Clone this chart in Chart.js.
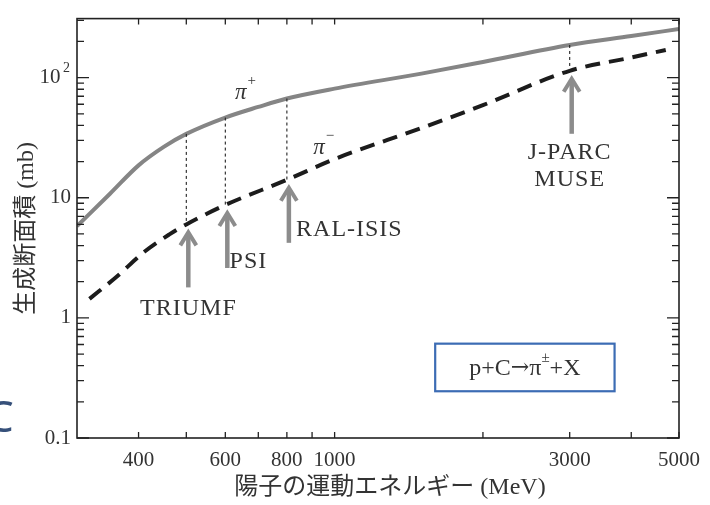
<!DOCTYPE html>
<html>
<head>
<meta charset="utf-8">
<title>p+C pion production</title>
<script src="https://cdn.jsdelivr.net/npm/chart.js@4/dist/chart.umd.min.js"></script>
<style>
  body { margin: 0; background: #fff; }
  #wrap { width: 710px; height: 505px; }
</style>
</head>
<body>
<div id="wrap"><canvas id="xs" width="710" height="505"></canvas></div>
<script>
// proton kinetic energy (MeV) and production cross sections (mb)
var energyPlus = [300, 350, 400, 450, 500, 600, 700, 800, 1000, 1500, 2000, 3000, 4000, 5000];
var sigmaPlus  = [5.8, 10.8, 18.6, 26.5, 34, 46.5, 57, 67, 81, 108, 135, 187, 222, 254];
var energyMinus = [318, 361, 411, 462, 500, 600, 800, 1000, 1500, 2000, 3000, 4000, 4700];
var sigmaMinus  = [1.44, 2.2, 3.55, 4.95, 6.0, 8.7, 14.1, 21, 38, 59, 114, 147, 170];

// facilities marked with arrows
var facilityNames  = ['TRIUMF', 'PSI', 'RAL-ISIS', 'J-PARC\nMUSE'];
var facilityEnergy = [500, 600, 800, 3000];

// axis ticks
var xTicks  = [400, 500, 600, 700, 800, 900, 1000, 2000, 3000, 4000, 5000];
var xLabels = [400, 600, 800, 1000, 3000, 5000];
var yTicks = [];
[0.1, 1, 10, 100].forEach(function (d) {
  for (var k = 1; k <= 9; k++) {
    if (d * k <= 310) yTicks.push(+(d * k).toPrecision(3));
  }
});
var yLabels = {0.1: '0.1', 1: '1', 10: '10', 100: '10'};

var serif = "'Liberation Serif', 'DejaVu Serif', serif";

function valueAt(xs, ys, x) {
  return ys[xs.indexOf(x)];
}

// frame, inward ticks, arrows and labels
var decorPlugin = {
  id: 'decor',
  afterDatasetsDraw: function (chart) {
    var ctx = chart.ctx, a = chart.chartArea;
    var xs = chart.scales.x, ys = chart.scales.y;
    ctx.save();

    // frame
    ctx.strokeStyle = '#222';
    ctx.lineWidth = 1.6;
    ctx.strokeRect(a.left, a.top, a.right - a.left, a.bottom - a.top);

    // inward ticks
    ctx.lineWidth = 1.3;
    ctx.beginPath();
    yTicks.forEach(function (v) {
      var y = ys.getPixelForValue(v);
      var len = yLabels[v] ? 12 : 7;
      ctx.moveTo(a.left, y); ctx.lineTo(a.left + len, y);
      ctx.moveTo(a.right, y); ctx.lineTo(a.right - len, y);
    });
    xTicks.forEach(function (v) {
      var x = xs.getPixelForValue(v);
      ctx.moveTo(x, a.bottom); ctx.lineTo(x, a.bottom - 6);
      ctx.moveTo(x, a.top); ctx.lineTo(x, a.top + 6);
    });
    ctx.stroke();

    // exponent of the 10^2 tick label
    ctx.fillStyle = '#333';
    ctx.font = '14px ' + serif;
    ctx.textAlign = 'left';
    ctx.textBaseline = 'middle';
    ctx.fillText('2', a.left - 14, ys.getPixelForValue(100) - 9);

    // dotted verticals between the two curves
    ctx.strokeStyle = '#222';
    ctx.lineWidth = 1.1;
    ctx.setLineDash([3, 3]);
    facilityEnergy.forEach(function (e) {
      var x = xs.getPixelForValue(e);
      ctx.beginPath();
      ctx.moveTo(x, ys.getPixelForValue(valueAt(energyPlus, sigmaPlus, e)));
      ctx.lineTo(x, ys.getPixelForValue(valueAt(energyMinus, sigmaMinus, e)));
      ctx.stroke();
    });
    ctx.setLineDash([]);

    // arrows: tip just below the pi- curve
    ctx.strokeStyle = '#8c8c8c';
    ctx.lineCap = 'butt';
    facilityEnergy.forEach(function (e) {
      var x = xs.getPixelForValue(e) + 2;
      var tip = ys.getPixelForValue(valueAt(energyMinus, sigmaMinus, e)) + 7;
      var tail = tip + 56;
      ctx.lineWidth = 4.5;
      ctx.beginPath();
      ctx.moveTo(x, tail); ctx.lineTo(x, tip + 4);
      ctx.stroke();
      ctx.lineWidth = 4;
      ctx.beginPath();
      ctx.moveTo(x - 8, tip + 14); ctx.lineTo(x, tip + 1); ctx.lineTo(x + 8, tip + 14);
      ctx.stroke();
    });

    // facility labels
    ctx.fillStyle = '#333';
    ctx.font = '24px ' + serif;
    ctx.letterSpacing = '1px';
    ctx.textBaseline = 'middle';
    ctx.textAlign = 'center';
    ctx.fillText(facilityNames[0], xs.getPixelForValue(505), ys.getPixelForValue(1.2));
    ctx.textAlign = 'left';
    ctx.fillText(facilityNames[1], xs.getPixelForValue(612), ys.getPixelForValue(2.95));
    ctx.fillText(facilityNames[2], xs.getPixelForValue(835), ys.getPixelForValue(5.4));
    ctx.textAlign = 'center';
    var jp = facilityNames[3].split('\n');
    ctx.fillText(jp[0], xs.getPixelForValue(3000), ys.getPixelForValue(23.5));
    ctx.fillText(jp[1], xs.getPixelForValue(3000), ys.getPixelForValue(14.1));
    ctx.letterSpacing = '0px';

    // curve labels
    function pion(sign, e, s) {
      var x = xs.getPixelForValue(e), y = ys.getPixelForValue(s);
      ctx.font = 'italic 23px ' + serif;
      ctx.textAlign = 'left';
      ctx.fillText('\u03c0', x, y);
      var w = ctx.measureText('\u03c0').width;
      ctx.font = '15px ' + serif;
      ctx.fillText(sign, x + w + 1, y - 12);
    }
    pion('+', 628, 74);
    pion('\u2212', 905, 26);

    // reaction box
    var bx0 = xs.getPixelForValue(1600), bx1 = xs.getPixelForValue(3700);
    var by0 = ys.getPixelForValue(0.61), by1 = ys.getPixelForValue(0.245);
    ctx.strokeStyle = '#3c6cb4';
    ctx.lineWidth = 2.2;
    ctx.strokeRect(bx0, by0, bx1 - bx0, by1 - by0);
    ctx.fillStyle = '#333';
    var parts = [
      {t: 'p+C', f: '24px ' + serif, dy: 0},
      {t: '\u2192', f: "22px 'DejaVu Serif'", dy: 0},
      {t: '\u03c0', f: '24px ' + serif, dy: 0},
      {t: '\u00b1', f: '15px ' + serif, dy: -10},
      {t: '+X', f: '24px ' + serif, dy: 0}
    ];
    var total = 0;
    parts.forEach(function (p) { ctx.font = p.f; p.w = ctx.measureText(p.t).width; total += p.w; });
    var tx = (bx0 + bx1) / 2 - total / 2, ty = (by0 + by1) / 2 + 1;
    ctx.textAlign = 'left';
    parts.forEach(function (p) {
      ctx.font = p.f;
      ctx.fillText(p.t, tx, ty + p.dy);
      tx += p.w;
    });

    // stray clipped letter at the left edge of the scan
    ctx.fillStyle = '#36507a';
    ctx.font = '44px "Noto Sans"';
    ctx.textBaseline = 'alphabetic';
    ctx.fillText('C', -14, 432);

    ctx.restore();
  }
};

var ctx = document.getElementById('xs').getContext('2d');
new Chart(ctx, {
  type: 'line',
  data: {
    datasets: [
      {
        label: '\u03c0+',
        data: energyPlus.map(function (e, i) { return {x: e, y: sigmaPlus[i]}; }),
        borderColor: '#858585',
        borderWidth: 4,
        pointRadius: 0,
        cubicInterpolationMode: 'monotone'
      },
      {
        label: '\u03c0-',
        data: energyMinus.map(function (e, i) { return {x: e, y: sigmaMinus[i]}; }),
        borderColor: '#1c1c1c',
        borderWidth: 4,
        borderDash: [15, 9],
        pointRadius: 0,
        cubicInterpolationMode: 'monotone'
      }
    ]
  },
  options: {
    responsive: false,
    animation: false,
    devicePixelRatio: 1,
    layout: { padding: { top: 15, right: 28, left: 0, bottom: 0 } },
    plugins: { legend: { display: false }, tooltip: { enabled: false } },
    scales: {
      x: {
        type: 'logarithmic',
        min: 300,
        max: 5000,
        grid: { display: false, drawTicks: false },
        border: { display: false },
        afterBuildTicks: function (scale) {
          scale.ticks = xTicks.map(function (v) { return {value: v}; });
        },
        afterFit: function (scale) { scale.height = 67; },
        ticks: {
          autoSkip: false,
          maxRotation: 0,
          padding: 10,
          color: '#333',
          font: { family: serif, size: 21 },
          callback: function (v) { return xLabels.indexOf(v) >= 0 ? String(v) : ''; }
        },
        title: {
          display: true,
          text: '\u3000陽子の運動エネルギー (MeV)',
          color: '#333',
          font: { family: serif + ", 'Noto Sans CJK JP'", size: 24 },
          padding: { top: 0, bottom: 3 }
        }
      },
      y: {
        type: 'logarithmic',
        min: 0.1,
        max: 310,
        grid: { display: false, drawTicks: false },
        border: { display: false },
        afterBuildTicks: function (scale) {
          scale.ticks = yTicks.map(function (v) { return {value: v}; });
        },
        afterFit: function (scale) { scale.width = 77; },
        ticks: {
          autoSkip: false,
          padding: 6,
          color: '#333',
          font: { family: serif, size: 21 },
          callback: function (v) { return v === 100 ? '10\u2002' : (yLabels[v] || ''); }
        },
        title: {
          display: true,
          text: '生成断面積 (mb)',
          color: '#333',
          font: { family: serif + ", 'Noto Sans CJK JP'", size: 24 },
          padding: { top: 12, bottom: 0 }
        }
      }
    }
  },
  plugins: [decorPlugin]
});
</script>
</body>
</html>
